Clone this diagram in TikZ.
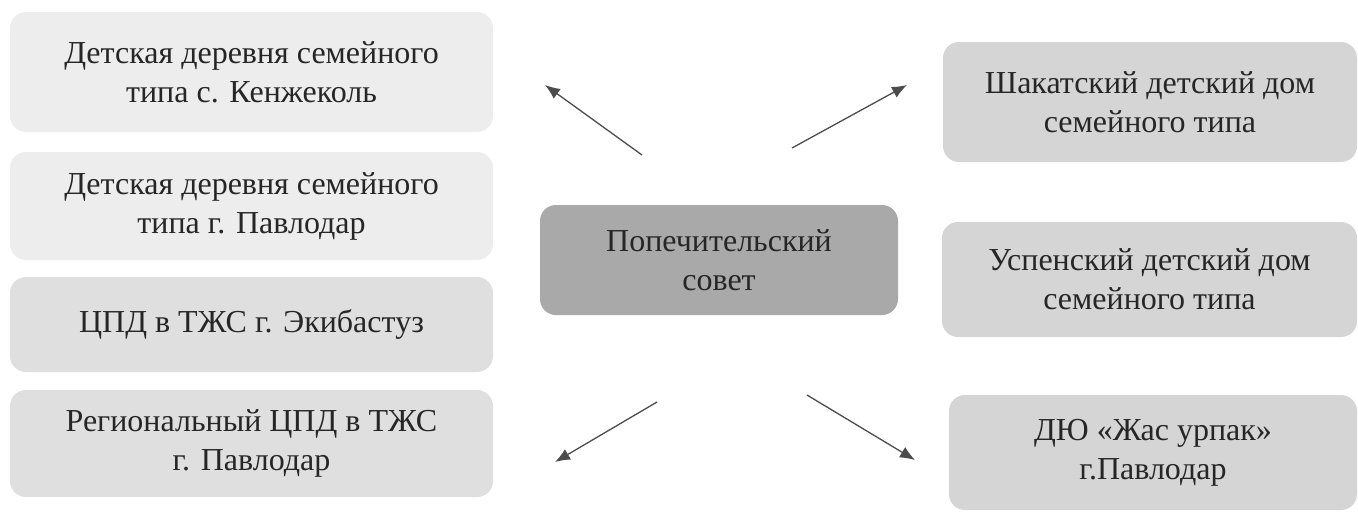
\documentclass[tikz,border=0pt]{standalone}
\usepackage{fontspec}
\setmainfont{Liberation Serif}
\usetikzlibrary{arrows.meta}

\definecolor{pale}{HTML}{EDEDED}
\definecolor{light}{HTML}{DFDFDF}
\definecolor{mid}{HTML}{D5D5D5}
\definecolor{dark}{HTML}{A9A9A9}
\definecolor{ink}{HTML}{262626}

\begin{document}
\begin{tikzpicture}
[x=1pt,y=-1pt,
 bx/.style={rounded corners=16pt,align=center,text=ink,inner sep=0pt,
   font=\fontsize{32}{39}\selectfont},
 lt/.style={bx,fill=pale,minimum width=483pt},
 lg/.style={bx,fill=light,minimum width=483pt},
 rg/.style={bx,fill=mid},
 ar/.style={-{Latex[length=15pt,width=12pt]},line width=1.3pt,draw=black!70}]
\useasboundingbox (0,0) rectangle (1358,512);

\node [lt,minimum height=120pt] at (251.5,72) (kenz) {Детская деревня семейного\\типа с. Кенжеколь};
\node [lt,minimum height=108pt] at (251.5,206) (pavl) {Детская деревня семейного\\типа г. Павлодар};
\node [lg,minimum height=95pt] at (251.5,324.5) (ekib) {ЦПД в ТЖС г. Экибастуз};
\node [lg,minimum height=107pt] at (251.5,443.5) (regi) {Региональный ЦПД в ТЖС\\г. Павлодар};

\node [bx,fill=dark,minimum width=358pt,minimum height=110pt] at (719,260) (sovet) {Попечительский\\совет};

\node [rg,minimum width=414pt,minimum height=120pt] at (1150,102) (shak) {Шакатский детский дом\\семейного типа};
\node [rg,minimum width=415pt,minimum height=115pt] at (1149.5,279.5) (uspen) {Успенский детский дом\\семейного типа};
\node [rg,minimum width=408pt,minimum height=115pt] at (1153,452.5) (dyu) {ДЮ «Жас урпак»\\г.Павлодар};

\coordinate (a1) at (642,155);
\coordinate (b1) at (545,85);
\coordinate (a2) at (792,148);
\coordinate (b2) at (907,85);
\coordinate (a3) at (657,402);
\coordinate (b3) at (555,462);
\coordinate (a4) at (807,395);
\coordinate (b4) at (915,460);

\draw [ar] (a1) -- (b1);
\draw [ar] (a2) -- (b2);
\draw [ar] (a3) -- (b3);
\draw [ar] (a4) -- (b4);
\end{tikzpicture}
\end{document}
